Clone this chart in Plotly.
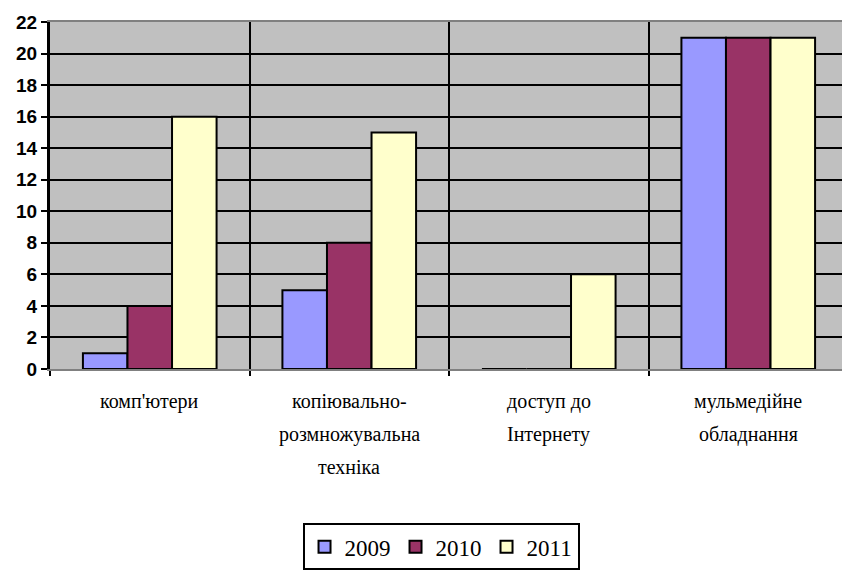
import plotly.graph_objects as go

# Категорії та значення
categories = ["комп'ютери", "копіювально-<br>розмножувальна<br>техніка",
              "доступ до<br>Інтернету", "мульмедійне<br>обладнання"]
years = ["2009", "2010", "2011"]
values_2009 = [1, 5, 0, 21]
values_2010 = [4, 8, 0, 21]
values_2011 = [16, 15, 6, 21]
colors = ["#9999FF", "#993366", "#FFFFCC"]
y_ticks = list(range(0, 23, 2))

SERIF = "Liberation Serif"
SANS = "Liberation Sans"

fig = go.Figure()
for name, vals, col in zip(years, [values_2009, values_2010, values_2011], colors):
    fig.add_trace(go.Bar(
        x=categories, y=vals, name=name,
        marker=dict(color=col, line=dict(color="black", width=2)),
    ))

# Підписи категорій окремими рядками (великий міжрядковий інтервал)
for cat in categories:
    for i, line in enumerate(cat.split("<br>")):
        fig.add_annotation(
            x=cat, xref="x", y=0, yref="paper", yanchor="middle",
            yshift=-32 - 33 * i, text=line, showarrow=False,
            font=dict(family=SERIF, size=20, color="black"),
        )

fig.update_layout(
    width=842, height=565,
    margin=dict(l=42, r=2, t=14, b=195),
    paper_bgcolor="white",
    plot_bgcolor="#C0C0C0",
    font=dict(family=SERIF, color="black"),
    barmode="group",
    bargap=0.33,
    bargroupgap=0,
    showlegend=True,
    legend=dict(
        orientation="h", x=0.49, xanchor="center", y=-0.445, yanchor="top",
        font=dict(family=SERIF, size=23, color="black"),
        bordercolor="black", borderwidth=2, bgcolor="white",
        itemwidth=30, tracegroupgap=0,
    ),
    xaxis=dict(
        type="category", tickson="boundaries", showticklabels=False,
        showgrid=True, gridcolor="black", gridwidth=2,
        ticks="outside", ticklen=5, tickwidth=2, tickcolor="black",
        showline=True, linecolor="#808080", linewidth=2, mirror=True,
        range=[-0.5, 3.5],
    ),
    yaxis=dict(
        range=[0, 22], tickvals=y_ticks,
        ticktext=[f"<b>{v}</b>" for v in y_ticks],
        showgrid=True, gridcolor="black", gridwidth=2, zeroline=False,
        ticks="outside", ticklen=6, tickwidth=2, tickcolor="black",
        showline=True, linecolor="black", linewidth=3,
        tickfont=dict(family=SANS, size=19, color="black"),
    ),
)

fig.write_html("out.html")
